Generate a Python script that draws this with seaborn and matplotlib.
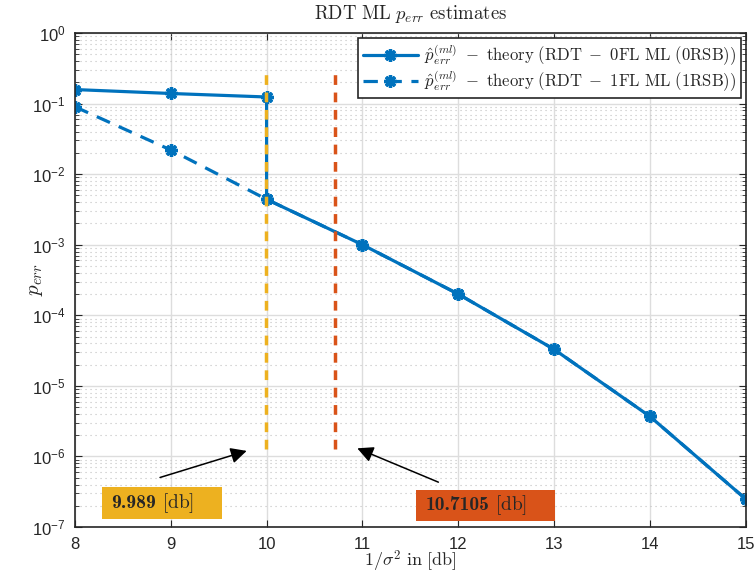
import numpy as np
import pandas as pd
import seaborn as sns
import matplotlib.pyplot as plt
from matplotlib.patches import Rectangle

# values
snr_0fl = [8, 9, 10, 10, 11, 12, 13, 14, 15]
perr_0fl = [0.158, 0.139, 0.124, 0.0044, 0.001, 2.0e-4, 3.3e-5, 3.7e-6, 2.5e-7]
snr_1fl = [8, 9, 10, 11, 12, 13, 14, 15]
perr_1fl = [0.09, 0.022, 0.0044, 0.001, 2.0e-4, 3.3e-5, 3.7e-6, 2.5e-7]
thresholds = [9.989, 10.7105]
threshold_num = ['9.989', '10.7105']
vline_top, vline_bottom = 0.316, 1.26e-6
xticks = [8, 9, 10, 11, 12, 13, 14, 15]

blue = '#0072BD'
yellow = '#EDB120'
red = '#D95319'

sns.set_style('ticks')
plt.rcParams['font.family'] = ['Liberation Sans', 'DejaVu Sans']
plt.rcParams['mathtext.fontset'] = 'cm'

df0 = pd.DataFrame({'snr': snr_0fl, 'perr': perr_0fl})
df1 = pd.DataFrame({'snr': snr_1fl, 'perr': perr_1fl})

fig = plt.figure(figsize=(7.56, 5.74), dpi=100)
ax = fig.add_axes([0.0992, 0.0819, 0.887, 0.8606])

star = (8, 2, 0)
sns.lineplot(data=df0, x='snr', y='perr', estimator=None, sort=False, ax=ax,
             color=blue, lw=2.3, marker=star, markersize=9, mew=2.4, mec=blue,
             label=r'$\hat{p}_{err}^{(ml)}\ -\ \mathrm{theory\ (RDT\ -\ 0FL\ ML\ (0RSB))}$')
sns.lineplot(data=df1, x='snr', y='perr', estimator=None, sort=False, ax=ax,
             color=blue, lw=2.3, marker=star, markersize=9, mew=2.4, mec=blue,
             label=r'$\hat{p}_{err}^{(ml)}\ -\ \mathrm{theory\ (RDT\ -\ 1FL\ ML\ (1RSB))}$')
ax.lines[1].set_dashes([4.5, 3])

ax.set_yscale('log')
for t, c in zip(thresholds, [yellow, red]):
    ax.vlines(t, vline_bottom, vline_top, colors=c, lw=2.5, linestyles=(0, (2.8, 2.2)), zorder=5)

ax.set_xlim(8, 15)
ax.set_ylim(1e-7, 1)
ax.set_xticks(xticks)
ax.set_yticks([10.0 ** k for k in range(-7, 1)])
ax.grid(True, which='major', color='#dddddd', lw=1)
ax.grid(True, which='minor', axis='y', color='#c0c0c0', lw=0.8, linestyle=(0, (1, 3.5)))
ax.tick_params(which='both', direction='in', top=True, right=True, labelsize=12)
ax.tick_params(which='major', length=5, pad=7)
ax.tick_params(which='minor', length=3)
for s in ax.spines.values():
    s.set_visible(True)
    s.set_color('#262626')
    s.set_linewidth(1.2)

ax.set_title(r'$\mathrm{RDT\ ML}\ p_{err}\ \mathrm{estimates}$', fontsize=13.5, pad=10)
ax.set_xlabel(r'$1/\sigma^2\ \mathrm{in\ [db]}$', fontsize=13, labelpad=-2)
ax.set_ylabel(r'$p_{err}$', fontsize=15)
ax.yaxis.set_label_coords(-0.045, 0.5)

leg = ax.legend(loc='upper right', fontsize=12, frameon=True, fancybox=False,
                edgecolor='#262626', framealpha=1, borderaxespad=0.3, borderpad=0.25,
                handlelength=3.3, labelspacing=0.05, handletextpad=0.4)
leg.get_frame().set_linewidth(1.2)

# threshold labels with arrows
ax.annotate('', xy=(9.82, 10 ** -5.91), xytext=(8.86, 10 ** -6.31),
            arrowprops=dict(arrowstyle='-|>', color='black', lw=1.1, mutation_scale=24))
ax.annotate('', xy=(10.92, 10 ** -5.87), xytext=(11.82, 10 ** -6.38),
            arrowprops=dict(arrowstyle='-|>', color='black', lw=1.1, mutation_scale=24))
boxes = [(8.28, 9.53, -6.89, -6.44, yellow), (11.56, 13.01, -6.91, -6.47, red)]
for (x0, x1, y0, y1, c), num in zip(boxes, threshold_num):
    ax.add_patch(Rectangle((x0, 10 ** y0), x1 - x0, 10 ** y1 - 10 ** y0,
                           fc=c, ec='none', zorder=6))
    t1 = ax.text(x0 + 0.1, 10 ** ((y0 + y1) / 2), num, fontsize=14, family='cmb10',
                 ha='left', va='center', zorder=7)
    ax.annotate(r'$\mathrm{[db]}$', xy=(1, 0.5), xycoords=t1, xytext=(4, 0),
                textcoords='offset points', fontsize=14, ha='left', va='center', zorder=7)

fig.savefig('out.png', dpi=100)
